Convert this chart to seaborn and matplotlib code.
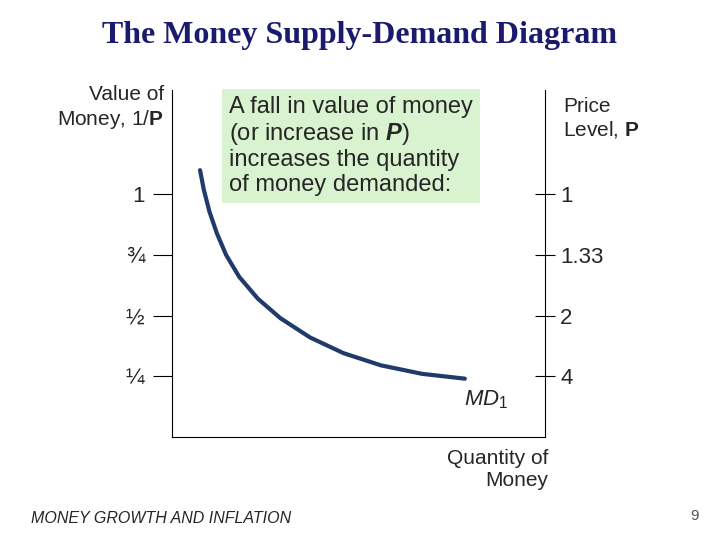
import matplotlib
matplotlib.use("Agg")
import matplotlib.pyplot as plt
import seaborn as sns
import pandas as pd

sns.set_theme(style="white")
plt.rcParams['font.family'] = ['Liberation Sans', 'DejaVu Sans']
plt.rcParams['mathtext.fontset'] = 'custom'
plt.rcParams['mathtext.rm'] = 'Liberation Sans'
plt.rcParams['mathtext.it'] = 'Liberation Sans:italic'
plt.rcParams['mathtext.bf'] = 'Liberation Sans:bold'
plt.rcParams['mathtext.bfit'] = 'Liberation Sans:bold:italic'

qty = [0.075, 0.085, 0.10, 0.12, 0.145, 0.18, 0.23, 0.29, 0.37, 0.46, 0.56, 0.67, 0.785]
value = [1.10, 1.02, 0.93, 0.84, 0.75, 0.66, 0.57, 0.49, 0.41, 0.345, 0.295, 0.26, 0.24]
left_ticks = [1, 0.75, 0.5, 0.25]
left_labels = ["1", "¾", "½", "¼"]
right_labels = ["1", "1.33", "2", "4"]

fig = plt.figure(figsize=(7.2, 5.4), dpi=100)
ax = fig.add_axes([0.239, 0.191, 0.518, 0.642])
df = pd.DataFrame({"q": qty, "v": value})
sns.lineplot(data=df, x="q", y="v", ax=ax, color="#1f3a6b", lw=3, sort=False)
ax.set_xlim(0, 1); ax.set_ylim(0, 1.43)
ax.set_xlabel(""); ax.set_ylabel("")
ax.set_xticks([])
for s in ["top", "right"]:
    ax.spines[s].set_visible(False)
ax.spines["left"].set_color("black"); ax.spines["bottom"].set_color("black")
ax.spines["left"].set_linewidth(0.8); ax.spines["bottom"].set_linewidth(0.8)
ax.set_yticks(left_ticks)
ax.set_yticklabels(left_labels, fontsize=16)
ax.tick_params(axis="y", direction="out", length=14, width=0.8, left=True, pad=6, color="black")
ax2 = ax.twinx()
ax2.set_ylim(ax.get_ylim())
ax2.set_yticks(left_ticks)
ax2.set_yticklabels(right_labels, fontsize=16)
for s in ["top", "left", "bottom"]:
    ax2.spines[s].set_visible(False)
ax2.spines["right"].set_color("black"); ax2.spines["right"].set_linewidth(0.8)
ax2.tick_params(axis="y", direction="inout", length=14, width=0.8, right=True, pad=4, color="black")
ax2.grid(False); ax.grid(False)

fig.text(0.5, 0.935, "The Money Supply-Demand Diagram", ha="center", va="center",
         fontsize=23, fontweight="bold", color="#1a1a6e", family="Liberation Serif")
fig.text(0.228, 0.80, "Value of\nMoney, 1/$\\mathbf{P}$", ha="right", va="center", fontsize=15, linespacing=1.2)
fig.text(0.782, 0.78, "Price\nLevel, $\\mathbf{P}$", ha="left", va="center", fontsize=15, linespacing=1.2)
fig.text(0.318, 0.73, "A fall in value of money\n(or increase in $\\mathbfit{P}$)\nincreases the quantity\nof money demanded:",
         ha="left", va="center", fontsize=17, linespacing=1.15,
         bbox=dict(boxstyle="square,pad=0.3", fc="#d9f2d0", ec="none"))
fig.text(0.645, 0.26, "$\\mathit{MD}_1$", ha="left", va="center", fontsize=16)
fig.text(0.762, 0.13, "Quantity of\nMoney", ha="right", va="center", fontsize=15, linespacing=1.2)
fig.text(0.043, 0.04, "MONEY GROWTH AND INFLATION", ha="left", va="center", fontsize=11.5, style="italic")
fig.text(0.97, 0.045, "9", ha="right", va="center", fontsize=11, color="#555555")
fig.savefig("out.png", dpi=100)
